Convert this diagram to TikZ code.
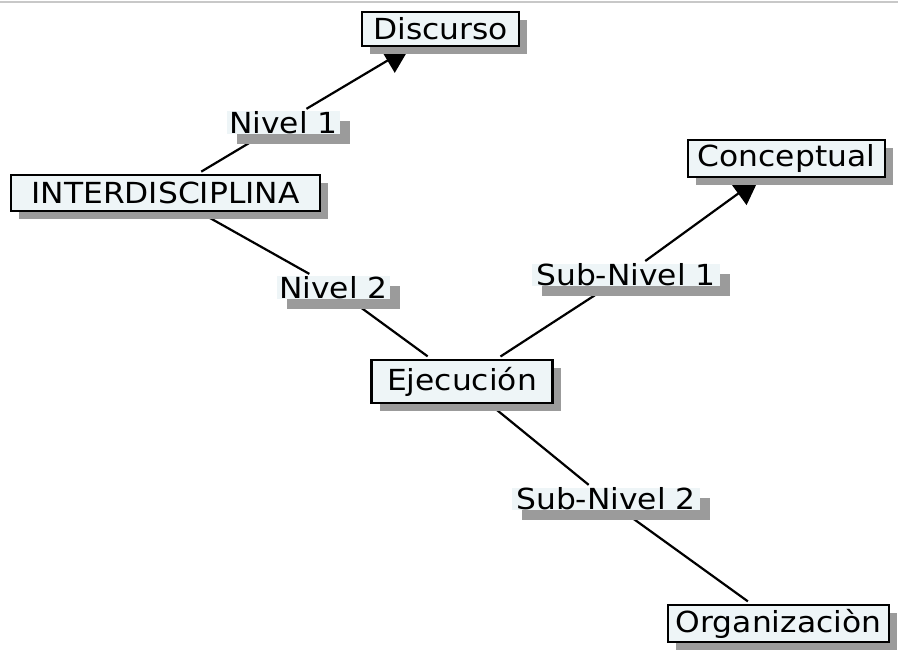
\documentclass[tikz,border=0pt]{standalone}
\usepackage{fontspec}
\setmainfont{DejaVu Sans}[FakeStretch=1.08]
\usetikzlibrary{shadows,arrows.meta,backgrounds}
\definecolor{fondocaja}{HTML}{EEF5F7}
\definecolor{sombra}{HTML}{9B9B9B}
\definecolor{marco}{HTML}{C8C8C8}

\begin{document}
\begin{tikzpicture}[x=0.5pt,y=-0.5pt]
  \tikzset{
    mapa caja/.style={
      draw=black,
      line width=1.3pt,
      fill=fondocaja,
      minimum width=#1,
      minimum height=18pt,
      inner sep=0pt,
      font=\fontsize{14.5}{17}\selectfont,
      drop shadow={shadow xshift=4pt, shadow yshift=-4pt, fill=sombra, opacity=1},
    },
    mapa etiqueta/.style={
      fill=fondocaja,
      minimum width=#1,
      minimum height=10.5pt,
      inner sep=0pt,
      font=\fontsize{14.5}{17}\selectfont,
      drop shadow={shadow xshift=5pt, shadow yshift=-5pt, fill=sombra, opacity=1},
    },
    conector/.style={line width=1.1pt, shorten <=2pt, shorten >=2pt},
    flecha/.style={conector, shorten >=0pt, -{Triangle[length=13pt, width=14pt]}},
  }
  \useasboundingbox (0,0) rectangle (898,657);

  % conceptos
  \node[mapa caja=78.5pt, minimum height=17pt] (discurso) at (440.5,29) {Discurso};
  \node[mapa caja=154.5pt] (inter) at (165.5,193) {INTERDISCIPLINA};
  \node[mapa caja=98.5pt, minimum height=18.5pt] (conceptual) at (786.5,158.5) {Conceptual};
  \node[mapa caja=90.5pt, minimum height=21.5pt] (ejecucion) at (462,381.5) {Ejecución};
  \node[mapa caja=110.5pt, minimum height=18.5pt] (organizacion) at (778.5,623.5) {Organizaciòn};

  % etiquetas de enlace
  \node[mapa etiqueta=56.5pt] (nivel1) at (283.5,122.5) {Nivel 1};
  \node[mapa etiqueta=56.5pt] (nivel2) at (333.5,287.5) {Nivel 2};
  \node[mapa etiqueta=94pt] (subnivel1) at (626,275) {Sub-Nivel 1};
  \node[mapa etiqueta=94pt] (subnivel2) at (606,499) {Sub-Nivel 2};

  \begin{scope}[on background layer]
    \draw[marco, line width=1pt] (0,2) -- (898,2);
    \draw[conector] (inter) -- (nivel1);
    \draw[flecha] (nivel1) -- (discurso);
    \draw[conector] (inter) -- (nivel2);
    \draw[conector] (nivel2) -- (ejecucion);
    \draw[conector] (ejecucion) -- (subnivel1);
    \draw[flecha] (subnivel1) -- (conceptual);
    \draw[conector] (ejecucion) -- (subnivel2);
    \draw[conector] (subnivel2) -- (organizacion);
  \end{scope}
\end{tikzpicture}
\end{document}
